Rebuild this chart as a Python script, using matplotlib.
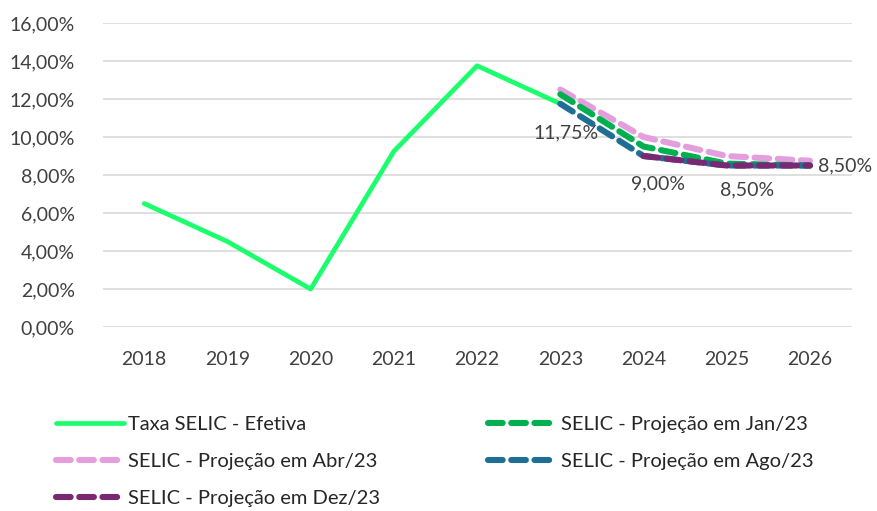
import matplotlib.pyplot as plt
from matplotlib.ticker import FuncFormatter

anos = ['2018', '2019', '2020', '2021', '2022', '2023', '2024', '2025', '2026']

# valores em %
efetiva = [6.5, 4.5, 2.0, 9.25, 13.75, 11.75]
proj_jan = [12.25, 9.5, 8.6, 8.5]
proj_abr = [12.5, 10.0, 9.0, 8.75]
proj_ago = [11.75, 9.0, 8.5, 8.5]
proj_dez = [9.0, 8.5, 8.5]

rotulos = [(5, 11.75, '11,75%'), (6, 9.0, '9,00%'), (7, 8.5, '8,50%'), (8, 8.5, '8,50%')]

plt.rcParams['font.family'] = ['Lato', 'DejaVu Sans']

fig = plt.figure(figsize=(8.77, 5.11), dpi=100)
ax = fig.add_axes([0.117, 0.36, 0.854, 0.595])

x = list(range(len(anos)))
dash = (0, (2.4, 1.4))

l_ef, = ax.plot(x[:6], efetiva, color='#1aff6b', lw=3.4, solid_capstyle='round', label='Taxa SELIC - Efetiva', zorder=3)
l_abr, = ax.plot(x[5:], proj_abr, color='#e59edd', lw=4.4, ls=dash, dash_capstyle='round', label='SELIC - Projeção em Abr/23', zorder=4)
l_jan, = ax.plot(x[5:], proj_jan, color='#00b050', lw=4.4, ls=dash, dash_capstyle='round', label='SELIC - Projeção em Jan/23', zorder=5)
l_ago, = ax.plot(x[5:], proj_ago, color='#1f6e93', lw=4.4, ls=dash, dash_capstyle='round', label='SELIC - Projeção em Ago/23', zorder=6)
l_dez, = ax.plot(x[6:], proj_dez, color='#7b2873', lw=4.4, ls=dash, dash_capstyle='round', label='SELIC - Projeção em Dez/23', zorder=7)

# rótulos de dados
offs = {5: (0.065, -1.54), 6: (0.17, -1.47), 7: (0.25, -1.29), 8: (0.42, 0.0)}
for i, v, t in rotulos:
    dx, dy = offs[i]
    ax.text(i + dx, v + dy, t, ha='center', va='center', fontsize=14, color='#404040', zorder=8)

ax.set_xlim(-0.5, 8.5)
ax.set_ylim(0, 16)
ax.set_yticks(range(0, 17, 2))
ax.yaxis.set_major_formatter(FuncFormatter(lambda v, p: ('%.2f%%' % v).replace('.', ',')))
ax.set_xticks(x)
ax.set_xticklabels(anos)
ax.grid(axis='y', color='#d9d9d9', lw=1.2)
ax.set_axisbelow(True)
for s in ax.spines.values():
    s.set_visible(False)
ax.tick_params(length=0, labelsize=14, colors='#404040')
ax.tick_params(axis='y', pad=20)
ax.tick_params(axis='x', pad=17)

handles = [l_ef, l_abr, l_dez, l_jan, l_ago]
leg = fig.legend(handles, [h.get_label() for h in handles], ncol=2, loc='upper left',
                 bbox_to_anchor=(0.043, 0.222), frameon=False,
                 handlelength=3.4, handletextpad=0.2, columnspacing=5.35, labelspacing=1.0,
                 prop={'family': ['Lato', 'DejaVu Sans'], 'size': 14.5})
for t in leg.get_texts():
    t.set_color('#262626')

plt.savefig('out.png', dpi=100)
